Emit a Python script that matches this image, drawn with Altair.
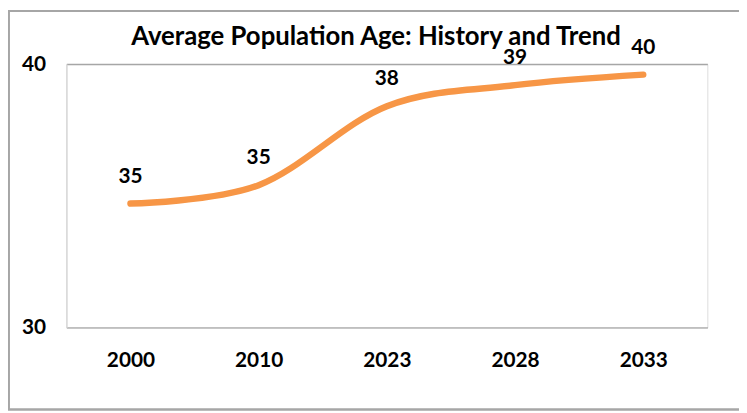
import altair as alt
import pandas as pd

years = ["2000", "2010", "2023", "2028", "2033"]
ages = [34.7, 35.4, 38.4, 39.2, 39.6]
y_ticks = [30, 40]
title_text = "Average Population Age: History and Trend"

df = pd.DataFrame({"year": years, "age": ages})

FONT = "Lato"
W, H = 648, 266

x_enc = alt.X("year:O", sort=years, title=None,
              scale=alt.Scale(type="point", padding=0.5),
              axis=alt.Axis(labelAngle=0, ticks=False, domain=True, domainColor="#BFBFBF",
                            domainWidth=1.5, labelFont=FONT, labelFontWeight="bold",
                            labelFontSize=21, labelColor="#000000", labelPadding=23, grid=False))
y_enc = alt.Y("age:Q", title=None,
              scale=alt.Scale(domain=[30, 40], zero=False, nice=False),
              axis=alt.Axis(values=y_ticks, ticks=False, grid=True, gridColor="#A6A6A6",
                            gridWidth=1.5, domainColor="#D9D9D9", domainWidth=1.5,
                            labelFont=FONT, labelFontWeight="bold", labelFontSize=21,
                            labelColor="#000000", labelPadding=21))

border = alt.Chart(df).mark_rect(fillOpacity=0, stroke="#A6A6A6", strokeWidth=1.5).encode(
    x=alt.value(-58.25), x2=alt.value(800), y=alt.value(-53.75), y2=alt.value(349.2)
)

line = alt.Chart(df).mark_line(color="#F79646", strokeWidth=6.5, strokeCap="round",
                               interpolate="cardinal").encode(x=x_enc, y=y_enc)

labels = alt.Chart(df).mark_text(font=FONT, fontWeight="bold", fontSize=21, color="#000000",
                                 baseline="middle", dy=-27).encode(
    x=alt.X("year:O", sort=years), y="age:Q", text=alt.Text("age:Q", format=".0f")
)

chart = alt.layer(border, line, labels).properties(
    width=W, height=H,
    title=alt.Title(title_text, font=FONT, fontSize=26, fontWeight="bold", color="#000000",
                    anchor="middle", frame="group", dx=-11, baseline="alphabetic", offset=-61),
    autosize=alt.AutoSizeParams(type="none"),
    padding={"left": 59, "top": 54.5, "right": 32, "bottom": 85},
).configure_view(stroke=None).configure(background="#FFFFFF")

chart.save("out.html", embed_options={"renderer": "svg", "actions": False})
